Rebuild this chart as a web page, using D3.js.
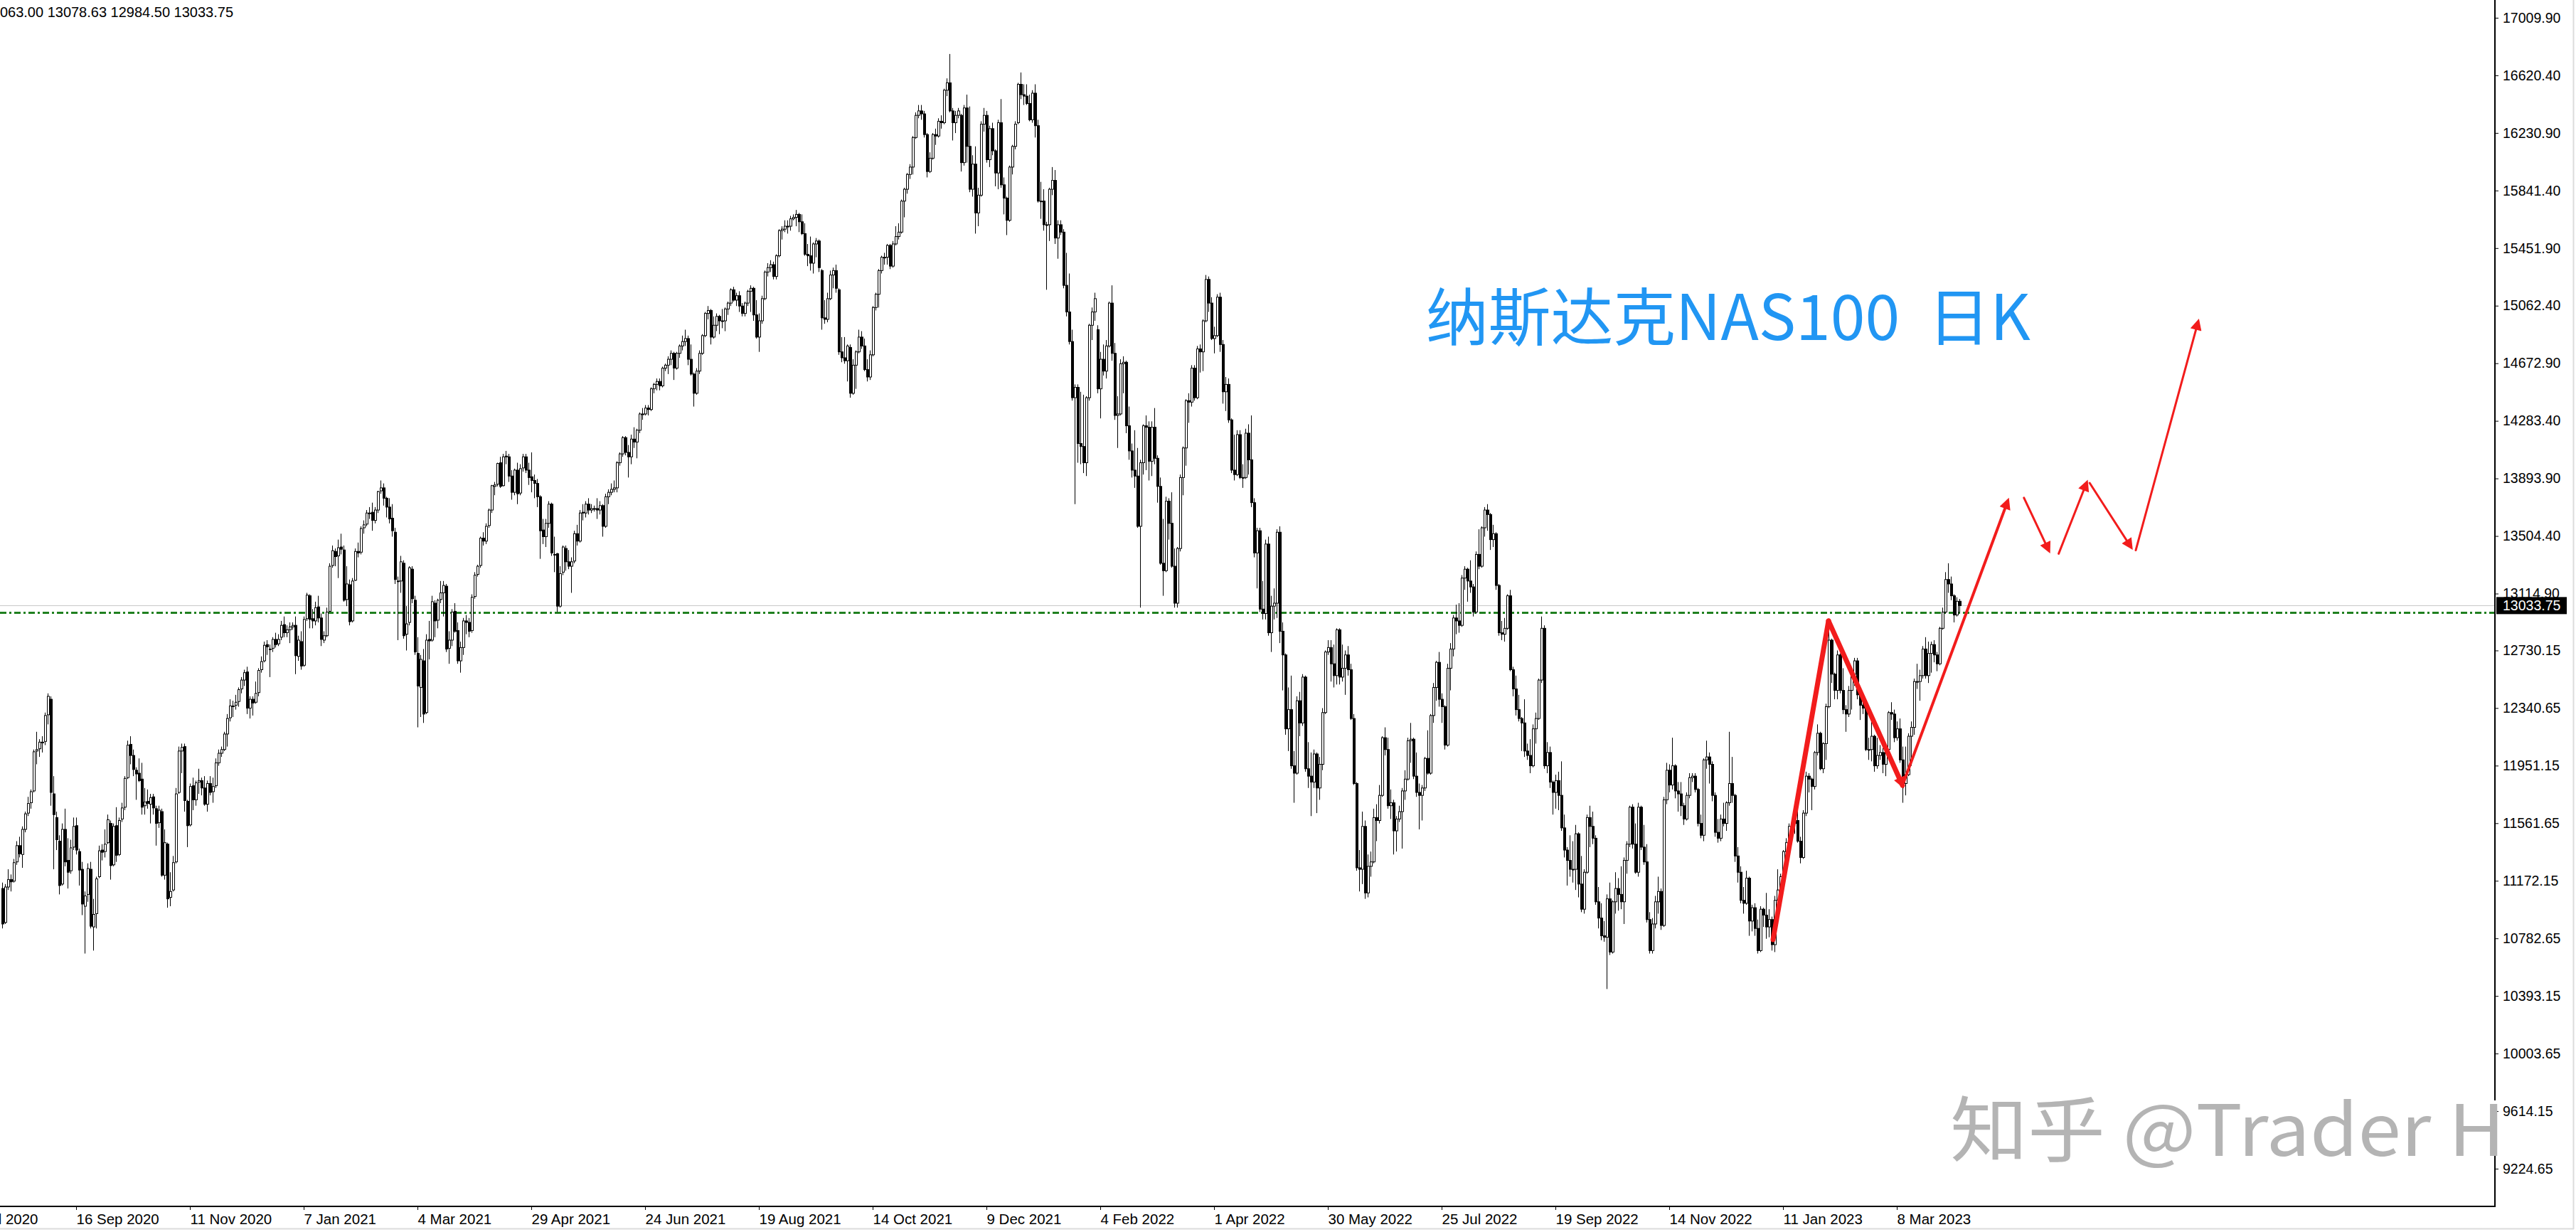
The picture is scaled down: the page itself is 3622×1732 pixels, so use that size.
<!DOCTYPE html>
<html><head><meta charset="utf-8">
<script src="https://cdn.jsdelivr.net/npm/d3@7"></script>
<style>html,body{margin:0;padding:0;background:#fff;overflow:hidden}</style>
</head><body><svg id="c" width="3622" height="1732" xmlns="http://www.w3.org/2000/svg"></svg>
<script>
// ---- DATA: daily candles [open, high, low, close], NAS100 D1 ----
const bars2020 = [
[11120,11160,10850,10880],[10890,11150,10880,11130],[11130,11250,11110,11180],[11180,11215,11100,11165],[11170,11320,11160,11295],
[11300,11440,11280,11410],[11410,11470,11330,11355],[11350,11540,11260,11520],[11520,11640,11500,11625],[11630,11740,11610,11695],
[11700,11790,11660,11775],[11780,12060,11770,12045],[12050,12180,11960,12060],[12065,12130,12010,12110],[12110,12150,12040,12110],
[12115,12310,12090,12290],[12295,12440,12230,12420],[12400,12420,11680,11770],[11760,11880,11250,11620],[11600,11640,11380,11450],
[11440,11480,11080,11140],[11150,11560,11140,11520],[11520,11660,11270,11300],[11310,11460,11120,11230],[11240,11450,11220,11395],
[11400,11600,11380,11540],[11545,11600,11350,11380],[11370,11390,11140,11245],[11250,11300,10940,11015],[11000,11100,10680,11070],
[11080,11290,11030,11255],[11250,11300,10850,10865],[10860,11050,10700,10945],[10950,11200,10850,11185],[11200,11410,11190,11375],
[11380,11420,11310,11365],[11370,11520,11330,11420],[11430,11620,11420,11585],[11560,11580,11180,11275],[11280,11560,11270,11540],
[11545,11670,11300,11345],[11350,11600,11340,11580],[11590,11700,11570,11665],[11670,11880,11650,11865],[11870,12120,11860,12090],
[12095,12150,11960,12020],[12020,12060,11880,11925],[11920,11940,11720,11895],[11900,12000,11840,11850],[11860,11970,11620,11670],
[11680,11800,11620,11705],[11710,11790,11660,11695],[11690,11760,11560,11735],[11740,11760,11620,11665],[11660,11680,11410,11560],
[11565,11680,11530,11650],[11640,11660,11200,11210],[11210,11520,11180,11430],[11420,11430,10990,11050],[11060,11230,11000,11100],
[11110,11340,11100,11295],[11300,11800,11290,11760],[11770,12080,11760,12050],[12050,12100,11900,12075],[12080,12100,11640,11715],
[11710,11720,11400,11545],[11550,11830,11540,11810],[11815,11870,11650,11720],[11720,11850,11680,11835],[11840,11930,11760,11850],
[11850,11870,11750,11800],[11800,11880,11680,11690],[11690,11850,11640,11830],[11830,11880,11750,11770],[11775,11870,11700,11810],
[11815,12000,11800,11970],[11970,12060,11950,12035],[12035,12080,12010,12060],[12060,12180,12050,12165],[12165,12300,12080,12270],
[12275,12400,12250,12355],[12350,12390,12280,12355],[12360,12430,12330,12380],[12385,12480,12350,12465],[12470,12550,12440,12530],
[12530,12600,12490,12580],[12585,12620,12300,12340],[12340,12420,12270,12400],[12400,12420,12290,12375],[12380,12520,12370,12440],
[12445,12610,12420,12595],[12600,12690,12580,12655],[12660,12790,12650,12765],[12770,12800,12700,12755],[12740,12770,12550,12740],
[12745,12820,12720,12805],[12805,12850,12750,12770],[12775,12840,12760,12805],[12820,12930,12800,12900],[12905,12960,12820,12850],
[12850,12900,12820,12870],[12870,12920,12780,12890],[12890,12920,12870,12900]
];
const bars2021 = [
[12900,12960,12570,12695],[12690,12830,12660,12800],[12790,12860,12600,12625],[12630,12960,12620,12940],[12945,13120,12930,13105],
[13100,13110,12880,12940],[12945,13010,12880,12930],[12930,13060,12900,13020],[13025,13100,12920,12950],[12950,12980,12760,12805],
[12800,12860,12780,12830],[12830,13020,12820,12990],[12995,13320,12990,13300],[13305,13440,13290,13405],[13400,13420,13300,13365],
[13370,13480,13220,13425],[13430,13520,13380,13415],[13410,13440,13060,13070],[13075,13300,13030,13180],[13175,13210,12900,12925],
[12930,13220,12920,13200],[13205,13420,13200,13400],[13400,13460,13360,13390],[13395,13570,13380,13555],[13560,13610,13520,13580],
[13585,13680,13570,13660],[13660,13700,13620,13660],[13665,13730,13540,13610],[13610,13700,13590,13680],[13680,13810,13660,13805],
[13810,13880,13790,13830],[13830,13860,13710,13760],[13760,13770,13630,13700],[13700,13760,13590,13620],[13625,13720,13500,13540],
[13530,13560,13180,13210],[13200,13230,12800,13200],[13200,13370,13120,13330],[13320,13340,12810,12830],[12840,13030,12730,12910],
[12920,13300,12900,13290],[13280,13300,13050,13080],[13070,13100,12700,12720],[12710,12820,12210,12490],[12480,12700,12280,12670],
[12660,12740,12240,12300],[12310,12840,12300,12800],[12805,12930,12670,12795],[12800,13100,12790,13060],[13050,13070,12820,12930],
[12935,13080,12880,13070],[13075,13200,13050,13120],[13120,13200,12960,13170],[13165,13180,12720,12740],[12745,12860,12640,12800],
[12800,13010,12760,12990],[12995,13050,12850,12860],[12865,12920,12640,12660],[12660,12790,12580,12750],[12750,12950,12700,12930],
[12930,12970,12840,12920],[12920,12950,12820,12860],[12865,13110,12850,13090],[13095,13260,13080,13240],[13245,13310,13230,13300],
[13305,13500,13290,13490],[13490,13530,13440,13470],[13470,13590,13450,13570],[13575,13690,13560,13680],[13680,13850,13660,13845],
[13840,13870,13780,13850],[13855,14000,13840,13995],[14000,14040,13830,13840],[13845,14060,13840,14040],[14045,14080,13990,14040],
[14040,14060,13870,13910],[13910,13950,13750,13800],[13800,13960,13780,13950],[13950,14000,13720,13790],[13795,13990,13780,13960],
[13965,14060,13940,14040],[14040,14060,13930,13950],[13950,14000,13850,13900],[13905,14070,13800,13880],[13880,13920,13760,13860],
[13860,13890,13700,13770],[13770,13780,13350,13540],[13545,13620,13450,13500],[13500,13620,13430,13590],[13590,13740,13560,13720],
[13720,13730,13370,13390],[13380,13500,13260,13380],[13385,13390,12990,13030],[13030,13300,13020,13250],[13260,13440,13240,13430],
[13420,13440,13270,13330],[13330,13410,13280,13300],[13300,13360,13120,13330],[13335,13540,13320,13520],[13520,13580,13440,13470],
[13470,13680,13460,13660],[13665,13720,13610,13660],[13660,13740,13630,13720],[13720,13760,13650,13680],[13680,13720,13660,13690],
[13690,13710,13670,13690],[13690,13760,13620,13680],[13680,13740,13650,13710],[13710,13720,13500,13570],[13570,13790,13560,13770],
[13770,13820,13720,13800],[13800,13860,13780,13820],[13820,13880,13800,13830],[13830,14010,13800,14000],[14000,14070,13980,14060],
[14060,14180,14040,14170],[14170,14180,14050,14070],[14070,14120,13900,14040],[14040,14190,13990,14160],[14160,14240,14100,14140],
[14140,14230,14030,14220],[14220,14340,14200,14330],[14330,14370,14290,14330],[14330,14390,14320,14370],[14370,14390,14320,14360],
[14360,14510,14350,14500],[14500,14540,14470,14530],[14530,14570,14490,14550],[14550,14570,14490,14520],[14520,14650,14510,14640],
[14640,14670,14620,14660],[14660,14720,14600,14700],[14700,14760,14660,14740],[14740,14750,14560,14640],[14640,14750,14630,14740],
[14740,14800,14710,14790],[14790,14860,14760,14820],[14820,14900,14790,14840],[14840,14860,14660,14700],[14700,14800,14590,14600],
[14600,14610,14380,14470],[14470,14640,14460,14620],[14620,14760,14600,14740],[14740,14870,14730,14860],[14860,15020,14850,15010],
[15010,15060,14970,15030],[15030,15040,14800,14850],[14850,14990,14840,14930],[14930,15010,14890,14990],[14990,15000,14870,14960],
[14960,15040,14910,14960],[14960,15050,14890,15040],[15040,15090,15000,15080],[15080,15180,15060,15170],[15170,15190,15090,15100],
[15100,15150,15060,15130],[15130,15160,15020,15060],[15060,15080,14990,15010],[15010,15090,14990,15080],[15080,15170,15060,15160],
[15160,15200,15020,15180],[15180,15190,14960,15000],[15000,15100,14840,14850],[14850,15010,14750,14960],[14960,15130,14940,15110],
[15110,15300,15100,15290],[15290,15350,15260,15320],[15320,15370,15290,15340],[15340,15360,15240,15260],[15260,15410,15240,15400],
[15400,15580,15390,15570],[15570,15600,15510,15580],[15580,15640,15560,15600],[15600,15640,15550,15600],[15600,15670,15570,15650],
[15650,15680,15640,15660],[15660,15710,15600,15680],[15680,15690,15560,15630],[15630,15680,15540,15550],[15550,15620,15400,15410],
[15410,15480,15330,15400],[15400,15530,15300,15350],[15350,15490,15280,15480],[15480,15520,15390,15500],[15500,15510,15290,15320],
[15300,15310,14900,14980],[14980,15100,14940,14970],[14970,15150,14950,15110],[15110,15300,15100,15270],[15270,15320,15180,15300],
[15300,15340,15150,15180],[15170,15180,14730,14750],[14750,14850,14680,14710],[14710,14850,14670,14690],[14690,14800,14550,14790],
[14780,14800,14440,14470],[14470,14700,14460,14660],[14660,14760,14500,14750],[14750,14900,14740,14850],[14850,14890,14770,14790],
[14790,14840,14620,14630],[14630,14700,14550,14580],[14580,14760,14560,14730],[14730,15060,14720,15050],[15050,15150,15030,15140],
[15140,15310,15050,15300],[15300,15400,15280,15390],[15390,15420,15340,15390],[15390,15480,15340,15470],[15470,15480,15310,15330],
[15330,15500,15320,15480],[15480,15600,15470,15530],[15530,15620,15510,15560],[15560,15780,15550,15770],[15770,15860,15660,15850],
[15850,15960,15820,15950],[15950,16020,15920,16000],[16000,16210,15950,16200],[16200,16370,16190,16350],[16350,16420,16330,16380],
[16380,16420,16320,16360],[16360,16380,16200,16220],[16220,16230,15930,15970],[15970,16100,15960,16060],[16060,16230,16050,16220],
[16220,16260,16150,16210],[16210,16330,16200,16310],[16310,16350,16260,16300],[16300,16530,16290,16520],[16520,16600,16480,16570],
[16570,16765,16370,16380],[16380,16400,16180,16300],[16300,16380,16230,16350],[16350,16400,16330,16380],[16350,16360,15970,16030],
[16030,16420,16010,16400],[16400,16490,16030,16140],[16140,16410,15830,15850],[15850,16080,15800,16020],[16020,16140,15550,15690],
[15690,15860,15600,15810],[15810,16310,15800,16290],[16290,16400,16240,16350],[16350,16380,16030,16050],[16050,16280,16000,16260],
[16260,16300,16080,16110],[16110,16120,15870,15960],[15960,16320,15850,16300],[16300,16460,15860,15880],[15880,15930,15680,15790],
[15790,15800,15540,15640],[15640,16010,15630,16000],[16000,16150,15950,16140],[16140,16310,16120,16290],[16300,16570,16290,16560],
[16560,16640,16460,16490],[16490,16560,16420,16480],[16480,16560,16420,16430],[16430,16490,16310,16320]
];
const bars2022 = [
[16320,16520,16300,16500],[16500,16560,16200,16280],[16280,16320,15760,15770],[15770,15900,15650,15770],[15770,15850,15570,15610],
[15610,15630,15170,15610],[15610,15860,15500,15850],[15850,16000,15810,15910],[15910,15980,15480,15520],[15520,15640,15380,15610],
[15610,15640,15540,15560],[15560,15580,15180,15200],[15200,15420,14990,15020],[15020,15280,14800,14820],[14820,14900,14420,14440],
[14440,14530,13720,14510],[14510,14530,14000,14130],[14130,14480,13990,14110],[14110,14460,13930,14000],[14000,14450,13910,14440],
[14440,14940,14420,14930],[14930,15050,14830,15020],[15020,15150,14960,15110],[14900,14930,14470,14500],[14500,14750,14300,14700],
[14700,14800,14590,14620],[14620,14830,14570,14790],[14790,15090,14780,15080],[15080,15200,14690,14740],[14740,14810,14290,14320],
[14320,14450,14100,14330],[14330,14700,14320,14670],[14670,14720,14470,14680],[14680,14690,14200,14250],[14250,14380,14020,14080],
[14080,14130,13900,13950],[13950,14220,13830,13910],[13910,14100,13560,13570],[13570,14020,13020,14000],[14000,14260,13920,14250],
[14250,14320,13950,14240],[14240,14280,13880,14010],[14010,14280,13910,14240],[14240,14370,13990,14030],[14030,14050,13730,13840],
[13840,13900,13310,13320],[13320,13620,13100,13270],[13270,13770,13260,13740],[13740,13760,13480,13590],[13590,13800,13290,13300],
[13300,13420,13020,13050],[13050,13430,13020,13420],[13420,13920,13400,13900],[13900,14110,13780,14100],[14100,14430,13980,14420],
[14420,14470,14270,14410],[14410,14660,14380,14640],[14640,14660,14420,14440],[14440,14790,14430,14770],[14770,14800,14610,14750],
[14750,14970,14620,14960],[14960,15270,14950,15240],[15240,15260,15020,15080],[15080,15120,14830,14840],[14840,14920,14740,14860],
[14860,15140,14850,15120],[15120,15150,14750,14800],[14800,14830,14400,14480],[14480,14580,14350,14530],[14530,14570,14270,14290],
[14290,14300,13930,13950],[13950,14190,13880,13920],[13920,14220,13910,14190],[14190,14220,13890,13900],[13900,13990,13830,13900],
[13900,14230,13890,14200],[14200,14260,13920,14020],[14020,14320,13700,13730],[13730,13760,13360,13390],[13390,13560,13150,13540],
[13540,13560,12990,13010],[13010,13200,12940,12980],[12980,13480,12940,13450],[13450,13500,12830,12850],[12850,13100,12720,13030],
[13030,13150,12940,13050],[13050,13550,12950,13530],[13530,13570,12780,12860],[12860,12920,12460,12700],[12700,12710,12160,12200],
[12200,12480,12050,12330],[12330,12560,11930,11950],[11950,12050,11700,11900],[11900,12420,11890,12390],[12390,12450,12150,12240],
[12240,12570,12220,12550],[12550,12560,11910,11930],[11930,12110,11800,11880],[11880,12040,11610,11840],[11840,12060,11800,12030],
[12030,12040,11630,11800],[11800,12010,11720,11960],[11960,12340,11920,12310],[12310,12730,12300,12720],[12720,12800,12700,12750],
[12750,12800,12520,12640],[12640,12770,12480,12560],[12560,12880,12500,12870],[12870,12880,12500,12550],[12550,12770,12520,12610],
[12610,12730,12430,12700],[12700,12760,12560,12600],[12600,12640,12260,12270],[12270,12300,11820,11830],[11830,11840,11240,11260],
[11260,11380,11100,11250],[11250,11640,11150,11540],[11540,11580,11050,11090],[11090,11350,11060,11270],[11270,11370,11200,11300],
[11300,11660,11290,11600],[11600,11690,11440,11580],[11580,11820,11560,11750],[11750,12150,11740,12140],[12140,12210,12020,12060],
[12060,12140,11660,11680],[11680,11790,11590,11700],[11700,11720,11350,11510],[11510,11610,11370,11590],[11590,11680,11570,11640],
[11640,11800,11390,11780],[11780,11920,11720,11860],[11860,12140,11850,12120],[12120,12240,11970,12130],[12130,12140,11860,11880],
[11880,12040,11740,11770],[11770,11830,11520,11750],[11750,11820,11580,11800],[11800,12010,11780,12000],[12000,12190,11890,11900],
[11900,12300,11890,12290],[12290,12510,12240,12480],[12480,12660,12390,12650],[12650,12720,12350,12400],[12400,12440,12240,12350],
[12350,12360,12060,12090],[12090,12640,12080,12610],[12610,12780,12460,12740],[12740,12970,12690,12950],[12950,13040,12840,12930],
[12930,13050,12850,12900],[12900,13240,12890,13220],[13220,13300,13140,13280],[13280,13290,13060,13200],[13200,13340,13120,13160],
[13160,13180,12960,12990],[12990,13400,12980,13380],[13380,13550,13280,13300],[13300,13570,13290,13560],[13560,13700,13500,13680],
[13680,13720,13540,13650],[13650,13660,13410,13480],[13480,13580,13430,13520],[13520,13530,13140,13170],[13170,13180,12830,12850],
[12850,12930,12800,12840],[12840,12950,12790,12880],[12880,13110,12870,13100],[13100,13140,12590,12600],[12600,12620,12420,12470],
[12470,12560,12290,12330],[12330,12430,12250,12270],[12270,12280,12050,12240],[12240,12400,12010,12050],[12050,12100,11990,12020],
[12020,12130,11900,11950],[11950,12230,11940,12200],[12200,12310,12100,12270],[12270,12540,12260,12530],[12530,12960,12510,12880],
[12880,12900,11930,11950],[11950,12110,11900,12040],[12040,12080,11800,11840],[11840,11850,11620,11770],[11770,11890,11660,11850],
[11850,11910,11650,11750],[11750,11980,11510,11530],[11530,11620,11330,11380],[11380,11400,11140,11310],[11310,11480,11200,11250],
[11250,11440,11160,11250],[11250,11550,11110,11490],[11490,11500,11060,11150],[11150,11340,10960,10980],[10980,11250,10950,11230],
[11230,11620,11220,11600],[11600,11680,11400,11540],[11540,11640,11420,11460],[11460,11480,11010,11030],[11030,11130,10850,10920],
[10920,11020,10770,10800],[10800,10900,10760,10790],[10790,11080,10440,11050],[11050,11160,10670,10690],[10690,11040,10680,11030],
[11030,11230,10950,11120],[11120,11190,10970,11080],[11080,11270,10980,11030],[11030,11330,10880,11310],[11310,11440,11220,11420],
[11420,11680,11400,11670],[11670,11690,11390,11420],[11420,11560,11220,11230],[11230,11700,11200,11670],[11670,11680,11380,11400],
[11400,11550,11280,11300],[11300,11420,10890,10910],[10910,10960,10680,10700],[10700,10920,10680,10880],[10880,11070,10850,11030],
[11030,11200,10950,11100],[11100,11120,10840,10870],[10870,11740,10860,11720],[11720,11970,11690,11920],[11920,11960,11770,11820],
[11820,12140,11790,11950],[11950,11960,11730,11780],[11780,11840,11640,11760],[11760,11840,11610,11680],[11680,11700,11550,11590],
[11590,11770,11580,11750],[11750,11900,11730,11870],[11870,11900,11840,11880],[11880,11900,11770,11790],[11790,11800,11540,11560],
[11560,11620,11460,11480],[11480,12000,11440,11990],[11990,12120,11930,12010],[12010,12040,11830,11960],[11960,11980,11710,11750],
[11750,11770,11470,11500],[11500,11590,11430,11460],[11460,11620,11440,11590],[11590,11700,11540,11560],[11560,11710,11510,11700],
[11700,12180,11680,11830],[11830,12010,11700,11750],[11750,11760,11300,11340],[11340,11400,11160,11230],[11230,11270,11020,11040],
[11040,11130,10950,11020],[11020,11240,11010,11190],[11190,11200,10800,10900],[10900,11010,10830,10990],[10990,11020,10800,10850],
[10850,10910,10680,10700],[10700,11000,10690,10980],[10980,10990,10860,10940]
];
const bars2023 = [
[10940,11090,10780,10860],[10860,10980,10790,10910],[10910,10930,10700,10740],[10740,11070,10690,11040],[11040,11250,11030,11110],
[11110,11220,11020,11200],[11200,11380,11180,11370],[11370,11460,11250,11430],[11430,11560,11320,11540],[11540,11590,11510,11560],
[11560,11620,11490,11580],[11580,11700,11430,11440],[11440,11470,11290,11330],[11330,11650,11320,11630],[11630,11910,11610,11880],
[11880,11900,11770,11860],[11860,11870,11650,11810],[11810,12050,11790,12040],[12040,12230,12020,12170],[12170,12180,11920,11930],
[11930,12110,11900,12100],[12100,12370,11990,12350],[12350,12880,12340,12800],[12800,12810,12510,12570],[12570,12580,12400,12460],
[12460,12730,12400,12700],[12700,12710,12440,12460],[12460,12610,12300,12330],[12330,12360,12180,12300],[12300,12490,12280,12460],
[12460,12600,12330,12570],[12570,12680,12490,12660],[12660,12680,12400,12430],[12430,12440,12260,12360],[12360,12380,12300,12340],
[12340,12350,12050,12060],[12060,12140,11990,12060],[12060,12270,11980,12150],[12150,12160,11910,11950],[11950,12140,11930,12020],
[12020,12090,11990,12040],[12040,12070,11900,11960],[11960,12090,11880,12060],[12060,12320,12050,12310],[12310,12380,12260,12300],
[12300,12330,12110,12140],[12140,12250,12120,12200],[12200,12270,11970,11990],[11990,12080,11700,11830],[11830,12080,11750,11890],
[11890,12170,11880,12150],[12150,12250,11950,12210],[12210,12540,12160,12520],[12520,12640,12470,12520],[12520,12600,12390,12560],
[12560,12760,12540,12740],[12740,12820,12540,12560],[12560,12790,12510,12710],[12710,12790,12580,12770],[12770,12800,12650,12700],
[12700,12720,12590,12640],[12640,12890,12630,12880],[12880,13020,12870,12990],[12990,13260,12980,13210],[13210,13320,13120,13180],
[13180,13230,13070,13100],[13100,13110,12920,12970],[12970,13090,12960,13063],[13063,13078.63,12984.5,13033.75]
];

// axis labels
const priceTicks = [17009.90,16620.40,16230.90,15841.40,15451.90,15062.40,14672.90,14283.40,13893.90,13504.40,13114.90,
  12730.15,12340.65,11951.15,11561.65,11172.15,10782.65,10393.15,10003.65,9614.15,9224.65];
const priceTickLabels = ["17009.90","16620.40","16230.90","15841.40","15451.90","15062.40","14672.90","14283.40","13893.90","13504.40","13114.90",
  "12730.15","12340.65","11951.15","11561.65","11172.15","10782.65","10393.15","10003.65","9614.15","9224.65"];
const dateTickBars = [-14,26,66,106,146,186,226,266,306,346,386,426,466,506,546,586,626,666];
const dateTickLabels = ["22 Jul 2020","16 Sep 2020","11 Nov 2020","7 Jan 2021","4 Mar 2021","29 Apr 2021","24 Jun 2021","19 Aug 2021",
  "14 Oct 2021","9 Dec 2021","4 Feb 2022","1 Apr 2022","30 May 2022","25 Jul 2022","19 Sep 2022","14 Nov 2022","11 Jan 2023","8 Mar 2023"];
const headerText = "13063.00 13078.63 12984.50 13033.75";
const bidPrice = 13033.75;
const bidLabel = "13033.75";
const levelPrice = 12984.5;
const titleText = "纳斯达克NAS100  日K";
const watermarkText = "知乎 @Trader H";
// hand-drawn red arrows: [barFrom, priceFrom, barTo, priceTo]
const redArrows = [
  [622.5,10774,642,12930],
  [642,12930,668,11818],
  [668,11818,705,13741],
  [710.7,13763,719.4,13408],
  [722.9,13385,732.7,13863],
  [733.8,13863,748.3,13430],
  [750,13408,771.9,14952]
];

// ---- DRAW ----
const bars = [].concat(bars2020, bars2021, bars2022, bars2023);
const W = 3622, H = 1732, plotR = 3508, plotB = 1696;
const svg = d3.select('#c');
const x = d3.scaleLinear().domain([0, 876]).range([3, 3507]);
const y = d3.scaleLinear().domain([9224.65, 17009.90]).range([1643, 25]);
const FONT = '"Liberation Sans",Arial,sans-serif';

svg.append('rect').attr('width', W).attr('height', H).attr('fill', '#fff');
svg.append('line').attr('x1', 3618.5).attr('x2', 3618.5).attr('y1', 0).attr('y2', 1728).attr('stroke', '#dcdcdc').attr('stroke-width', 2);
svg.append('line').attr('x1', 0).attr('x2', 3619).attr('y1', 1727.5).attr('y2', 1727.5).attr('stroke', '#dcdcdc').attr('stroke-width', 2);

const defs = svg.append('defs');
defs.append('clipPath').attr('id', 'plot').append('rect').attr('x', 0).attr('y', 0).attr('width', plotR).attr('height', plotB);
defs.append('marker').attr('id', 'ah').attr('viewBox', '0 0 10 10').attr('refX', 7).attr('refY', 5)
  .attr('markerWidth', 18).attr('markerHeight', 16).attr('markerUnits', 'userSpaceOnUse').attr('orient', 'auto')
  .append('path').attr('d', 'M0,0 L10,5 L0,10 z').attr('fill', '#f21c1c');

const g = svg.append('g').attr('clip-path', 'url(#plot)');

// bid line and level line
g.append('line').attr('x1', 0).attr('x2', plotR).attr('y1', Math.round(y(bidPrice)) + 0.5).attr('y2', Math.round(y(bidPrice)) + 0.5)
  .attr('stroke', '#c8c8c8').attr('stroke-width', 1);
g.append('line').attr('x1', 0).attr('x2', plotR).attr('y1', y(levelPrice)).attr('y2', y(levelPrice))
  .attr('stroke', '#1f801f').attr('stroke-width', 3).attr('stroke-dasharray', '9,4,3,4');

// candles
const cg = g.append('g');
cg.selectAll('line.w').data(bars).join('line').attr('class', 'w')
  .attr('x1', (d, i) => Math.round(x(i)) + 0.5).attr('x2', (d, i) => Math.round(x(i)) + 0.5)
  .attr('y1', d => y(d[1])).attr('y2', d => y(d[2]))
  .attr('stroke', '#000').attr('stroke-width', 1);
cg.selectAll('rect.b').data(bars).join('rect').attr('class', 'b')
  .attr('x', (d, i) => Math.round(x(i)) - 1 + 0.5)
  .attr('width', 3)
  .attr('y', d => Math.min(y(d[0]), y(d[3])))
  .attr('height', d => Math.max(1, Math.abs(y(d[0]) - y(d[3]))))
  .attr('fill', d => d[3] >= d[0] ? '#fff' : '#000')
  .attr('stroke', '#000').attr('stroke-width', 1);

// title
svg.append('text').attr('x', 2005).attr('y', 478).attr('font-family', '"Noto Sans CJK SC","Noto Sans",sans-serif')
  .attr('font-size', 88).attr('fill', '#2196f3').attr('textLength', 850).attr('lengthAdjust', 'spacingAndGlyphs')
  .attr('xml:space', 'preserve').style('white-space', 'pre')
  .text(titleText);

// red arrows (first two legs drawn heavier)
svg.append('g').selectAll('line').data(redArrows).join('line')
  .attr('x1', d => x(d[0])).attr('y1', d => y(d[1])).attr('x2', d => x(d[2])).attr('y2', d => y(d[3]))
  .attr('stroke', '#f21c1c').attr('stroke-width', (d, i) => i < 2 ? 7 : (i === 2 ? 4 : 3)).attr('stroke-linecap', 'round')
  .attr('marker-end', (d, i) => i === 0 ? null : 'url(#ah)');

// axes lines
svg.append('line').attr('x1', plotR).attr('x2', plotR).attr('y1', 0).attr('y2', plotB + 1).attr('stroke', '#000').attr('stroke-width', 2);
svg.append('line').attr('x1', 0).attr('x2', plotR + 1).attr('y1', plotB).attr('y2', plotB).attr('stroke', '#000').attr('stroke-width', 2);

// white patch behind the watermark's last letter (hides the axis line there)
svg.append('rect').attr('x', 3498).attr('y', 1547).attr('width', 16).attr('height', 70).attr('fill', '#fff');

// right price axis
const yAxis = d3.axisRight(y).tickValues(priceTicks).tickFormat((d, i) => priceTickLabels[i]).tickSize(5).tickPadding(6);
const ya = svg.append('g').attr('transform', `translate(${plotR},0)`).call(yAxis);
ya.select('.domain').remove();
ya.selectAll('text').attr('font-family', FONT).attr('font-size', 19.5).attr('fill', '#000');
ya.selectAll('line').attr('stroke', '#000');

// date axis
const xAxis = d3.axisBottom(x).tickValues(dateTickBars).tickFormat((d, i) => dateTickLabels[i]).tickSize(5).tickPadding(0);
const xa = svg.append('g').attr('transform', `translate(0,${plotB})`).call(xAxis);
xa.select('.domain').remove();
xa.selectAll('text').attr('font-family', FONT).attr('font-size', 20.5).attr('fill', '#000')
  .attr('text-anchor', 'start').attr('y', 25).attr('dy', 0).attr('dx', 0);
xa.selectAll('line').attr('stroke', '#000');

// bid label box
const bl = svg.append('g');
bl.append('rect').attr('x', 3510).attr('y', y(bidPrice) - 12).attr('width', 99).attr('height', 24).attr('fill', '#000');
bl.append('text').attr('x', 3519).attr('y', y(bidPrice) + 7).attr('font-family', FONT)
  .attr('font-size', 19.5).attr('fill', '#fff').text(bidLabel);

// header (its left part lies beyond the window edge, as in the original screenshot)
svg.append('text').attr('x', 328).attr('y', 24).attr('text-anchor', 'end').attr('font-family', FONT)
  .attr('font-size', 20).attr('fill', '#000').text(headerText);

// watermark
svg.append('text').attr('x', 2742).attr('y', 1625).attr('font-family', '"Noto Sans CJK SC","Noto Sans",sans-serif')
  .attr('font-size', 100).attr('font-weight', 400).attr('fill', '#b4b4b4').attr('textLength', 780).attr('lengthAdjust', 'spacingAndGlyphs')
  .text(watermarkText);
</script></body></html>
